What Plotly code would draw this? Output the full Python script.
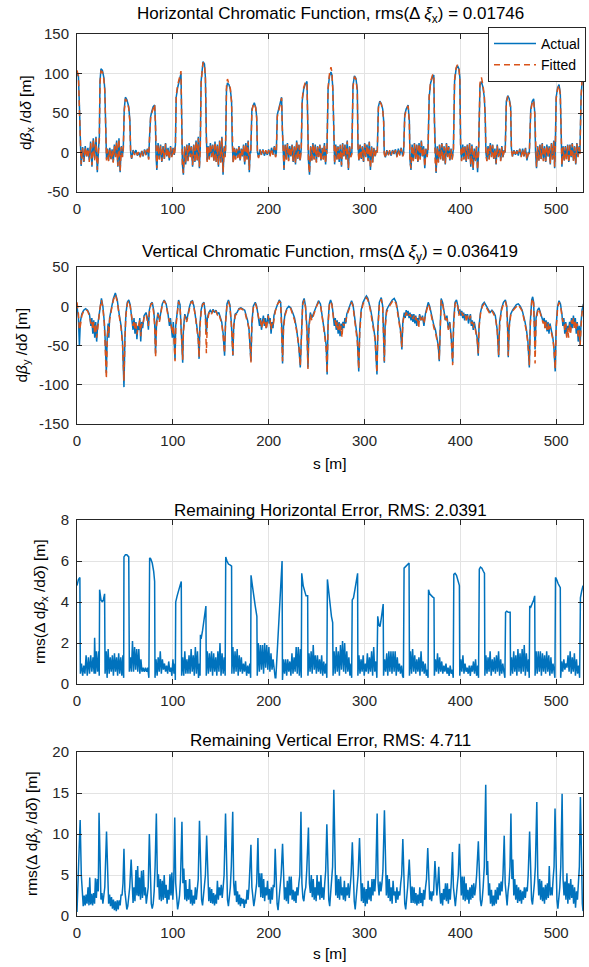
import plotly.graph_objects as go

# ---------------- data ----------------
S_X = [
    0, 1.5, 2.5, 3.5,
    4.3, 5.8, 7.2, 8.6, 10, 11.4, 12.8, 14.2, 15.6, 17, 18.4, 19.8, 21.2, 22.5,
    23.3, 24, 25, 26.5, 28, 29, 30, 30.8,
    31.8, 33, 34.2, 35.4, 36.6, 37.8, 39, 40.2, 41.4, 42.6, 43.8, 45, 46.2, 47.4,
    48.3, 49.3, 50.5, 52, 54, 55.2, 56,
    57, 58.5, 60, 61.5, 63, 64.5, 66, 67.5, 69, 70.5, 72, 73.5, 74.8,
    75.7, 76.8, 78, 79.5, 81, 81.8, 82.5,
    83.3, 84.6, 85.9, 87.2, 88.5, 89.8, 91.1, 92.4, 93.7, 95, 96.3, 97.6, 98.9, 100.2, 101.5,
    102.7, 103.5, 105, 107, 108.5, 109.3, 110,
    111, 112.2, 113.4, 114.6, 115.8, 117, 118.2, 119.4, 120.6, 121.8, 123, 124.2, 125.4, 126.6, 127.7,
    128.6, 129.5, 130.5, 131.5, 133, 134, 135, 135.8,
    136.8, 138, 139.2, 140.4, 141.6, 142.8, 144, 145.2, 146.4, 147.6, 148.8, 150, 151.2, 152.4, 153.6, 154.5,
    155, 156, 157, 158.5, 160, 161.3, 162, 163,
    164.2, 165.4, 166.6, 167.8, 169, 170.2, 171.4, 172.6, 173.8, 175, 176.2, 177.4, 178.6, 179.8, 180.6,
    181.3, 182.5, 184, 185, 186.5, 187.5, 188.3,
    189.5, 191, 192.5, 194, 195.5, 197, 198.5, 200, 201.5, 203, 204.5, 206, 207.2,
    208, 209, 210.5, 212, 213.5, 214.3, 215,
    216, 217.2, 218.4, 219.6, 220.8, 222, 223.2, 224.4, 225.6, 226.8, 228, 229.2, 230.4, 231.6, 232.8,
    234, 235, 236.5, 238, 240, 240.8, 241.5,
    242.6, 243.8, 245, 246.2, 247.4, 248.6, 249.8, 251, 252.2, 253.4, 254.6, 255.8, 257, 258.2, 259.4, 260.3,
    260.8, 262, 263.5, 265, 266, 267, 267.8,
    268.8, 270, 271.2, 272.4, 273.6, 274.8, 276, 277.2, 278.4, 279.6, 280.8, 282, 283.2, 284.4, 285.6,
    286.8, 288, 289.5, 291, 292.5, 293.2,
    294.2, 295.4, 296.6, 297.8, 299, 300.2, 301.4, 302.6, 303.8, 305, 306.2, 307.4, 308.6, 309.8, 311, 312.2,
    313.3, 314.5, 316, 317.5, 319, 320, 320.6,
    321.8, 323.3, 324.8, 326.3, 327.8, 329.3, 330.8, 332.3, 333.8, 335.3, 336.8, 338.3, 339.8,
    340.8, 342, 343.5, 345.5, 346.8, 347.5,
    348.5, 349.7, 350.9, 352.1, 353.3, 354.5, 355.7, 356.9, 358.1, 359.3, 360.5, 361.7, 362.9, 364.1, 365.3,
    366.3, 367.5, 369, 371, 372.3, 373, 373.7,
    374.7, 375.9, 377.1, 378.3, 379.5, 380.7, 381.9, 383.1, 384.3, 385.5, 386.7, 387.9, 389.1, 390.3, 391.5,
    392.8, 394, 395.5, 397, 398.5, 399.5, 400.3,
    401.3, 402.5, 403.7, 404.9, 406.1, 407.3, 408.5, 409.7, 410.9, 412.1, 413.3, 414.5, 415.7, 416.9, 418,
    419, 420.5, 422, 423.5, 425, 426, 426.7,
    427.7, 428.9, 430.1, 431.3, 432.5, 433.7, 434.9, 436.1, 437.3, 438.5, 439.7, 440.9, 442.1, 443.3, 444.5, 445.7,
    446.8, 448, 449.5, 451, 452.5, 453.3,
    454.5, 456, 457.5, 459, 460.5, 462, 463.5, 465, 466.5, 468, 469.5, 471,
    472, 473.5, 475, 476.5, 477.7, 478.5,
    479.5, 480.7, 481.9, 483.1, 484.3, 485.5, 486.7, 487.9, 489.1, 490.3, 491.5, 492.7, 493.9, 495.1, 496.3, 497.5, 498.4,
    499, 500, 501.5, 503, 504.3, 505,
    506, 507.2, 508.4, 509.6, 510.8, 512, 513.2, 514.4, 515.6, 516.8, 518, 519.2, 520.4, 521.6, 522.8, 524,
    524.8, 526, 527.3, 528.5,
]
DBX_ACT = [
    100, 96, 60, 5,
    -17, 7, -12, 8, -5, 6, -10, 14, -18, 18, -8, 20, -25, 5,
    20, 90, 106, 104, 95, 80, 20, -8,
    5, -10, 6, -8, 4, -12, 10, -5, 15, -18, 18, -25, 8, -5,
    5, 55, 70, 67, 58, 40, 0,
    -8, 3, -2, 3, -4, 0, -5, 2, -5, 4, -3, 5, -8,
    20, 45, 52, 58, 60, 40, -5,
    -22, 12, -8, 10, -12, 8, -8, 12, -5, 6, -10, 8, -5, 6, -3,
    10, 70, 82, 95, 100, 40, -15,
    -28, 8, -15, 10, -10, 12, -5, 8, -18, 10, -12, 15, -10, 20, -20,
    5, 90, 110, 115, 112, 95, 20, -10,
    8, -8, 12, -5, 10, -10, 14, -12, 10, -18, 15, -12, 20, -28, 8, -5,
    5, 80, 88, 86, 80, 65, 10, -12,
    6, -8, 5, -6, 8, -10, 5, -5, 10, -15, 12, -8, 15, -25, 0,
    0, 55, 62, 63, 57, 45, 0,
    -6, 4, -3, 4, -4, 2, -3, 4, -4, 6, -2, 8, -5,
    0, 48, 55, 65, 70, 30, -5,
    -22, 10, -8, 12, -10, 8, -5, 10, -12, 8, -15, 15, -8, 10, -10,
    5, 65, 80, 86, 90, 40, -10,
    -28, 8, -10, 12, -8, 10, -12, 8, -5, 10, -10, 6, -8, 12, -15, 5,
    0, 80, 97, 102, 98, 80, 10,
    -15, 10, -8, 8, -12, 10, -18, 12, -5, 10, -8, 15, -22, 8, -5,
    0, 85, 97, 94, 80, 10,
    -10, 10, -8, 8, -12, 12, -5, 10, -10, 14, -22, 8, -12, 6, -5, 3,
    0, 58, 65, 62, 55, 40, 0,
    -6, 3, -3, 2, -4, 3, -2, 4, -5, 5, -3, 6, -4,
    0, 48, 55, 60, 40, -10,
    -22, 10, -10, 12, -8, 10, -12, 12, -8, 15, -5, 8, -20, 5, -5,
    5, 70, 88, 96, 98, 40, -10,
    -26, 8, -12, 10, -8, 12, -10, 8, -15, 12, -5, 8, -10, 5, -8,
    5, 90, 105, 110, 106, 95, 10,
    -10, 10, -8, 8, -12, 10, -8, 12, -18, 10, -22, 5, -10, 8, -25,
    0, 85, 90, 83, 70, 45, 0,
    -10, 8, -8, 12, -5, 10, -8, 5, -15, 10, -5, 5, -10, 8, -6, 3,
    0, 65, 72, 68, 58, 5,
    -5, 3, -3, 3, -4, 5, -5, 5, -5, 6, -10, 0,
    0, 55, 65, 68, 50, 0,
    -20, 8, -10, 10, -8, 12, -10, 8, -12, 10, -5, 8, -15, 12, -8, 15, -20,
    0, 70, 82, 86, 75, 10,
    -18, 8, -10, 8, -8, 10, -12, 10, -6, 12, -10, 8, -15, 12, -5, 8,
    0, 70, 95, 100,
]
DBX_FIT = [
    104, 97, 55, 2,
    -15, 6, -11, 7, -6, 5, -12, 12, -16, 17, -10, 18, -22, 3,
    15, 88, 103, 102, 93, 78, 15, -10,
    4, -11, 5, -9, 3, -13, 9, -6, 14, -17, 17, -23, 7, -6,
    3, 52, 68, 65, 56, 38, -2,
    -7, 2, -3, 2, -3, 1, -6, 3, -4, 3, -4, 4, -9,
    18, 44, 50, 57, 61, 38, -8,
    -20, 10, -9, 9, -11, 7, -9, 11, -6, 5, -9, 7, -6, 5, -4,
    8, 72, 85, 98, 103, 38, -18,
    -26, 7, -14, 9, -11, 11, -6, 7, -16, 9, -13, 14, -11, 18, -18,
    3, 88, 108, 114, 111, 93, 18, -12,
    7, -9, 11, -6, 9, -11, 13, -13, 9, -16, 14, -13, 18, -25, 6, -6,
    3, 84, 93, 88, 81, 63, 8, -14,
    5, -9, 4, -7, 7, -11, 4, -6, 9, -14, 11, -9, 14, -22, -2,
    -2, 52, 61, 62, 56, 43, -2,
    -7, 3, -4, 3, -3, 3, -4, 3, -5, 5, -3, 7, -6,
    -2, 45, 53, 63, 69, 28, -7,
    -20, 9, -9, 11, -11, 7, -6, 9, -11, 7, -14, 14, -9, 9, -11,
    3, 68, 82, 88, 89, 38, -12,
    -26, 7, -11, 11, -9, 9, -13, 7, -6, 9, -11, 5, -9, 11, -14, 3,
    -2, 82, 100, 108, 102, 78, 8,
    -14, 9, -9, 7, -11, 9, -16, 11, -6, 9, -9, 14, -20, 7, -6,
    -2, 83, 96, 93, 78, 8,
    -11, 9, -9, 7, -11, 11, -6, 9, -11, 13, -20, 7, -13, 5, -6, 2,
    -2, 56, 64, 61, 54, 38, -2,
    -7, 2, -4, 3, -3, 2, -3, 3, -6, 4, -4, 5, -5,
    -2, 46, 54, 59, 38, -12,
    -20, 9, -11, 11, -9, 9, -13, 11, -9, 14, -6, 7, -18, 4, -6,
    3, 72, 90, 98, 99, 38, -12,
    -24, 7, -13, 9, -9, 11, -11, 7, -14, 11, -6, 7, -11, 4, -9,
    3, 92, 107, 111, 107, 93, 8,
    -11, 9, -9, 7, -11, 9, -9, 11, -16, 9, -20, 4, -11, 7, -22,
    -2, 88, 95, 86, 72, 43, -2,
    -11, 7, -9, 11, -6, 9, -9, 4, -14, 9, -6, 4, -11, 7, -7, 2,
    -2, 63, 71, 67, 56, 3,
    -6, 2, -4, 2, -3, 4, -6, 4, -6, 5, -9, -1,
    -2, 53, 63, 66, 48, -2,
    -18, 7, -11, 9, -9, 11, -11, 7, -11, 9, -6, 7, -14, 11, -9, 14, -18,
    -2, 68, 80, 85, 73, 8,
    -16, 7, -11, 7, -9, 9, -13, 9, -7, 11, -11, 7, -14, 11, -6, 7,
    -2, 72, 98, 103,
]

S_Y = [
    0, 1.5, 2.5, 3.5, 5, 7, 9, 11, 13, 14.5,
    15.5, 16.5, 17.5, 18.5, 19.5, 20.5, 21.5, 22.5, 24, 25.5,
    27, 28.5, 29.5, 30.6, 31.5, 32.5, 33.2, 34, 36, 38,
    40, 42, 44, 46, 47.5, 49, 50, 51, 52.5, 54,
    55.5, 57, 58.5, 59.5, 60.5, 61.5, 62.5, 63.5, 64.5, 65.5,
    66.5, 67.5, 68.5, 70, 72, 73.5, 74.5, 75.5, 77, 78.5,
    80, 81, 82, 83, 84.5, 86, 87.5, 89, 91, 93,
    95, 96.5, 97.5, 98.5, 99.5, 100.5, 101.5, 102.3, 103, 104.5,
    106, 107.5, 108.5, 109.5, 110.3, 111, 112.5, 114.5, 115.5, 117.5,
    119, 120.5, 122, 123.5, 125, 126.5, 127.4, 128.2, 129.5, 131,
    132.5, 134, 135, 136, 137.5, 139, 140.5, 142, 143.5, 145,
    146.5, 148, 149.5, 151, 152.5, 154, 155, 156.5, 158, 159.5,
    161, 162.7, 163.5, 165, 167, 169, 171, 173, 175, 176.5,
    178, 179.5, 181.5, 182.5, 184, 186, 187.5, 189, 190.5, 191.5,
    192.5, 193.5, 194.5, 195.5, 196.5, 197.5, 198.5, 199.5, 200.5, 201.5,
    202.5, 203.5, 204.5, 205.5, 207, 209, 211, 212.5, 213.5, 214.5,
    215.5, 217, 219, 221, 223, 225, 227, 229, 230.5, 231.5,
    233, 234, 235.5, 237, 238.5, 240, 241, 242, 243.5, 245,
    246.5, 248, 250, 252, 254, 255.5, 257, 258.5, 260, 261,
    262, 263.3, 264.6, 266, 267.5, 268.5, 269.5, 270.5, 271.5, 272.5,
    273.5, 274.5, 275.5, 276.5, 277.5, 278.5, 279.5, 280.5, 281.5, 283,
    285, 286.5, 288, 289.5, 291, 292.5, 294, 295, 296.5, 298.5,
    300.5, 302, 303.5, 305, 306.5, 308, 309.5, 311, 313, 314,
    315.5, 317.5, 319, 320, 320.7, 321.5, 323, 325, 327, 329,
    331, 333, 334.5, 336, 337.5, 339, 340, 341.5, 342.5, 343.5,
    344.5, 345.5, 346.5, 347.5, 348.5, 349.5, 350.5, 351.5, 352.5, 353.5,
    354.5, 355.5, 356.5, 357.5, 359, 360.5, 362, 363.5, 365, 366.5,
    368, 369.5, 371, 372.5, 374, 375.5, 377, 378, 379, 380,
    381.5, 383, 384.5, 386, 387.5, 389, 390.5, 392, 393, 394.5,
    396, 397.5, 398.5, 399.5, 400.5, 401.5, 402.5, 403.5, 404.5, 405.5,
    406.5, 407.5, 408.5, 409.5, 410.5, 411.5, 412.5, 413.5, 414.5, 416,
    417.5, 418.7, 419.5, 421, 423, 425, 427, 429, 431, 433,
    435, 436.5, 437.5, 438.5, 440, 441, 443, 445, 447, 448.5,
    449.3, 450, 451, 452.5, 454.5, 456.5, 458.5, 460.5, 462.5, 464.5,
    466, 467.5, 469, 470.5, 472, 473, 474.5, 475.5, 476.5, 477.3,
    478, 479, 480.5, 482, 483.5, 485, 486.5, 487.5, 488.5, 489.5,
    490.5, 491.5, 492.5, 493.5, 495, 496.5, 497.5, 499, 500, 501.5,
    503, 504.5, 506, 507, 508, 509, 510, 511, 512, 513,
    514, 515, 516, 517, 518, 519, 520, 521, 522, 523,
    524, 525, 526, 527, 528.5,
]
DBY_ACT = [
    0, -15, -50, -20, -10, -5, -3, -5, -10, -25,
    -15, -35, -18, -40, -20, -45, -25, -15, 0, 10,
    0, -20, -45, -85, -40, -22, -40, -15, -2, 10,
    17, 8, -10, -25, -45, -103, -40, -10, 5, 8,
    2, -12, -30, -15, -35, -20, -42, -25, -30, -15,
    -45, -20, -28, -12, -8, -15, -30, -5, 3, 5,
    -5, -20, -60, -20, -8, -18, -8, 3, 8, 3,
    -10, -25, -15, -30, -40, -20, -45, -68, -25, -5,
    8, 2, -20, -45, -72, -30, -10, -18, -10, 0,
    6, 7, 0, -10, -25, -40, -67, -25, -5, 3,
    5, -10, -35, -15, -8, -5, -8, -4, -8, -5,
    -10, -8, -15, -20, -35, -63, -20, 3, 8, 2,
    -20, -63, -25, -10, -8, -3, -2, -4, -5, -12,
    -18, -30, -70, -20, 0, 5, 0, -12, -25, -15,
    -30, -20, -12, -25, -15, -28, -18, -10, -22, -15,
    -35, -20, -28, -12, -5, 3, 8, 5, -20, -73,
    -25, -10, -3, 0, -2, -8, -15, -28, -40, -52,
    -78, -30, 5, 10, 0, -30, -78, -25, -8, -15,
    -10, -5, 2, 7, 3, -8, -20, -35, -50, -87,
    -20, 3, 8, 3, -12, -25, -15, -30, -18, -35,
    -20, -38, -22, -30, -20, -28, -15, -22, -10, -5,
    3, 7, 2, -12, -25, -40, -83, -30, -5, 5,
    10, 13, 10, 3, -5, -15, -25, -40, -87, -25,
    5, 11, 0, -30, -72, -25, -5, 0, 5, 8,
    10, 5, -5, -15, -30, -55, -20, -8, -15, -5,
    -12, -6, -15, -8, -18, -10, -20, -10, -22, -12,
    -25, -15, -20, -10, -18, -12, -25, -10, 0, 5,
    0, -10, -18, -25, -30, -40, -50, -70, -20, 10,
    5, -5, -18, -12, -28, -20, -40, -72, -20, 5,
    8, 0, -10, -4, -12, -6, -15, -8, -18, -10,
    -15, -10, -22, -15, -10, -25, -18, -30, -20, -30,
    -40, -63, -25, -8, 2, 5, 0, -5, -8, -5,
    -8, -12, -20, -30, -65, -20, -3, 5, 8, 0,
    -25, -65, -25, -10, -5, -2, 2, 3, 0, -5,
    -12, -20, -30, -45, -78, -20, 8, 12, 5, -20,
    -55, -15, -5, -2, -8, -12, -20, -15, -28, -18,
    -32, -20, -35, -22, -30, -40, -50, -83, -25, 0,
    7, 3, -10, -25, -15, -35, -20, -38, -25, -30,
    -20, -32, -15, -28, -12, -25, -15, -35, -20, -45,
    -25, -50, -20, -5, 3,
]
DBY_FIT = [
    5, -10, -30, -25, -12, -6, -4, -6, -12, -22,
    -18, -30, -20, -35, -22, -40, -30, -18, -2, 8,
    -2, -22, -50, -92, -45, -25, -35, -18, -4, 8,
    15, 6, -12, -28, -48, -95, -42, -12, 3, 7,
    0, -14, -25, -18, -28, -22, -36, -28, -20, -18,
    -38, -22, -25, -14, -10, -18, -25, -8, 2, 4,
    -8, -25, -65, -25, -10, -20, -10, 2, 7, 2,
    -12, -20, -18, -25, -35, -25, -50, -70, -28, -6,
    6, 0, -22, -40, -68, -35, -12, -20, -12, -2,
    5, 6, -2, -12, -28, -42, -65, -28, -8, 2,
    4, -15, -60, -20, -10, -6, -10, -5, -9, -6,
    -11, -9, -16, -22, -38, -60, -22, 1, 6, 0,
    -22, -62, -28, -12, -9, -4, -3, -5, -6, -14,
    -20, -28, -72, -25, -2, 4, -2, -14, -20, -18,
    -28, -22, -15, -22, -18, -30, -20, -12, -20, -18,
    -30, -22, -25, -14, -6, 2, 6, 4, -25, -70,
    -28, -12, -4, -2, -3, -10, -18, -30, -45, -50,
    -76, -35, 2, 8, -2, -35, -80, -30, -10, -18,
    -12, -6, 0, 5, 2, -10, -22, -38, -55, -85,
    -25, 1, 6, 2, -14, -20, -18, -28, -20, -30,
    -22, -33, -25, -40, -22, -25, -18, -20, -12, -6,
    2, 5, 0, -14, -28, -45, -80, -35, -8, 3,
    8, 11, 8, 2, -8, -18, -28, -42, -85, -30,
    2, 9, -2, -35, -70, -30, -8, -2, 3, 6,
    8, 3, -8, -18, -32, -52, -22, -10, -12, -8,
    -10, -8, -12, -10, -14, -12, -16, -12, -18, -14,
    -20, -17, -28, -12, -20, -14, -22, -12, -2, 3,
    -2, -12, -20, -28, -33, -42, -52, -68, -25, 8,
    3, -8, -20, -15, -30, -22, -42, -75, -25, 3,
    6, -2, -12, -6, -10, -8, -12, -10, -14, -12,
    -20, -12, -18, -17, -12, -22, -20, -28, -22, -32,
    -42, -60, -28, -10, 0, 3, -2, -6, -10, -6,
    -10, -14, -22, -32, -62, -25, -5, 3, 6, -2,
    -30, -63, -28, -12, -6, -3, 0, 2, -2, -6,
    -14, -22, -32, -48, -75, -25, 6, 10, 3, -30,
    -73, -20, -8, -3, -10, -14, -22, -17, -30, -20,
    -30, -22, -32, -25, -32, -42, -52, -80, -30, -2,
    5, 1, -12, -20, -18, -30, -22, -40, -28, -40,
    -22, -35, -18, -25, -15, -30, -18, -30, -22, -40,
    -30, -50, -25, -8, 2,
]

S_EX = [
    0, 1.5, 3, 3.5,
    4.7, 5.9, 7.1, 8.3, 9.5, 10.7, 11.9, 13.1, 14.3, 15.5, 16.7, 17.9, 18.4, 19.3, 20.2, 21.4, 22.6, 23.2,
    23.6, 25, 26.5, 27.5, 28.8, 29.3,
    30.5, 31.4, 32.5, 33.6, 34.7, 35.8, 36.9, 38, 39.1, 40.2, 41.3, 42.4, 43.5, 44.6, 45.7, 46.8, 47.9, 48.7,
    49, 50.5, 52, 54, 54.6,
    55.7, 56.8, 57.9, 59, 60.1, 61.2, 62.3, 63.4, 64.5, 65.6, 66.7, 67.8, 69, 70.2, 71.4, 72.6, 73.8, 75,
    75.8, 77, 78.5, 80, 81, 81.4,
    82.5, 83.6, 84.7, 85.8, 86.9, 88, 89.1, 90.2, 91.3, 92.4, 93.5, 94.6, 95.7, 96.8, 97.9, 99, 100.1, 101.2, 102.2, 102.6,
    103, 104.5, 106, 107.5, 108.8, 109.2,
    110.3, 111.4, 112.5, 113.6, 114.7, 115.8, 116.9, 118, 119.1, 120.2, 121.3, 122.4, 123.5, 124.6, 125.7, 126.8, 127.9, 128.4,
    128.8, 129.5, 131, 132.5, 134.5, 134.9,
    136, 137.1, 138.2, 139.3, 140.4, 141.5, 142.6, 143.7, 144.8, 145.9, 147, 148.1, 149.2, 150.3, 151.4, 152.5, 153.6, 154.6,
    155.2, 156.5, 158, 160, 161.3, 161.6,
    162.7, 163.8, 164.9, 166, 167.1, 168.2, 169.3, 170.4, 171.5, 172.6, 173.7, 174.8, 175.9, 177, 178.1, 179.2, 180.3, 181.2,
    181.6, 183, 184.5, 186, 187.7, 188.1,
    189.2, 190.3, 191.4, 192.5, 193.6, 194.7, 195.8, 196.9, 198, 199.1, 200.2, 201.3, 202.4, 203.5, 204.6, 205.7, 206.8,
    207.5, 214, 214.4,
    215.5, 216.6, 217.7, 218.8, 219.9, 221, 222.1, 223.2, 224.3, 225.4, 226.5, 227.6, 228.7, 229.8, 230.9, 232, 233.1, 234,
    234.5, 236, 237.5, 239, 240.7, 241,
    242.1, 243.2, 244.3, 245.4, 246.5, 247.6, 248.7, 249.8, 250.9, 252, 253.1, 254.2, 255.3, 256.4, 257.5, 258.6, 259.7, 260.7,
    261.3, 262.5, 264, 265.5, 266.8, 267.2,
    268.3, 269.4, 270.5, 271.6, 272.7, 273.8, 274.9, 276, 277.1, 278.2, 279.3, 280.4, 281.5, 282.6, 283.7, 284.8, 285.9, 286.6,
    287.2, 288.5, 290, 291.5, 292.8, 293.1,
    294.2, 295.3, 296.4, 297.5, 298.6, 299.7, 300.8, 301.9, 303, 304.1, 305.2, 306.3, 307.4, 308.5, 309.6, 310.7, 311.8, 312.9,
    313.8, 315, 316.2, 317.5, 319.5, 319.9,
    321, 322.1, 323.2, 324.3, 325.4, 326.5, 327.6, 328.7, 329.8, 330.9, 332, 333.1, 334.2, 335.3, 336.4, 337.5, 338.6, 339.7, 340.6,
    341.3, 343, 344.5, 346.5, 346.9,
    348, 349.1, 350.2, 351.3, 352.4, 353.5, 354.6, 355.7, 356.8, 357.9, 359, 360.1, 361.2, 362.3, 363.4, 364.5, 365.6, 366.3,
    366.8, 368, 369.5, 371, 372.5, 372.9,
    374, 375.1, 376.2, 377.3, 378.4, 379.5, 380.6, 381.7, 382.8, 383.9, 385, 386.1, 387.2, 388.3, 389.4, 390.5, 391.6, 392.6,
    393.2, 394.5, 396, 397.5, 399, 399.4,
    400.5, 401.6, 402.7, 403.8, 404.9, 406, 407.1, 408.2, 409.3, 410.4, 411.5, 412.6, 413.7, 414.8, 415.9, 417, 418.1, 419,
    419.8, 421, 422.5, 424, 425.2, 425.6,
    426.7, 427.8, 428.9, 430, 431.1, 432.2, 433.3, 434.4, 435.5, 436.6, 437.7, 438.8, 439.9, 441, 442.1, 443.2, 444.3, 445.4, 446.5,
    447.2, 448.5, 450, 452, 452.4,
    453.5, 454.6, 455.7, 456.8, 457.9, 459, 460.1, 461.2, 462.3, 463.4, 464.5, 465.6, 466.7, 467.8, 468.9, 470, 471.1, 471.9,
    472.4, 473.5, 475, 476.5, 477.6, 478,
    479.1, 480.2, 481.3, 482.4, 483.5, 484.6, 485.7, 486.8, 487.9, 489, 490.1, 491.2, 492.3, 493.4, 494.5, 495.6, 496.7, 497.8, 498.7,
    499.3, 500.5, 502, 503.5, 504.3, 504.7,
    505.8, 506.9, 508, 509.1, 510.2, 511.3, 512.4, 513.5, 514.6, 515.7, 516.8, 517.9, 519, 520.1, 521.2, 522.3, 523.4, 524.5,
    525.3, 526.5, 528,
]
ERR_X = [
    4.8, 5.1, 5.2, 0.5,
    1.0, 0.4, 0.9, 0.5, 1.4, 0.4, 1.3, 0.5, 1.4, 0.6, 1.3, 0.5, 2.25, 0.5, 1.6, 0.6, 1.6, 0.4,
    4.6, 4.1, 4.0, 4.1, 4.4, 0.5,
    1.6, 0.3, 1.7, 0.5, 1.3, 0.6, 1.4, 0.4, 1.5, 0.6, 1.3, 0.4, 1.5, 0.5, 1.3, 0.4, 1.4, 0.3,
    6.2, 6.3, 6.3, 6.2, 0.6,
    1.3, 0.6, 2.1, 0.6, 1.8, 0.7, 1.7, 0.6, 1.7, 0.5, 1.2, 0.6, 0.8, 0.6, 0.8, 0.6, 0.8, 0.3,
    6.15, 6.1, 5.9, 5.5, 5.0, 0.3,
    1.2, 0.4, 1.3, 0.6, 1.6, 0.5, 1.2, 0.7, 1.0, 0.6, 0.9, 0.5, 1.1, 0.6, 0.8, 0.4, 1.2, 0.5, 1.0, 0.2,
    4.0, 4.3, 4.6, 4.8, 5.0, 0.4,
    1.3, 0.4, 1.6, 0.5, 1.2, 0.5, 1.4, 0.5, 1.7, 0.6, 1.4, 0.4, 1.8, 0.5, 1.6, 0.3, 1.0, 0.4,
    2.4, 2.2, 2.6, 3.1, 3.8, 0.4,
    1.6, 0.5, 1.5, 0.6, 1.6, 0.4, 1.5, 0.6, 1.3, 0.4, 1.6, 0.6, 2.0, 0.4, 1.5, 0.5, 1.3, 0.4,
    6.2, 6.0, 5.85, 5.8, 5.75, 0.5,
    1.8, 0.5, 1.6, 0.6, 1.7, 0.4, 1.4, 0.6, 1.3, 0.5, 1.0, 0.6, 1.1, 0.4, 0.9, 0.5, 1.0, 0.3,
    5.3, 4.8, 4.2, 3.8, 3.3, 0.4,
    2.0, 0.6, 1.9, 0.7, 1.9, 0.5, 2.0, 0.8, 1.9, 0.7, 1.8, 0.6, 1.5, 0.7, 1.2, 0.5, 0.3,
    0.3, 6.0, 0.2,
    1.2, 0.5, 1.2, 0.4, 1.2, 0.6, 1.1, 0.4, 1.5, 0.5, 1.3, 0.6, 1.8, 0.5, 1.8, 0.4, 1.7, 0.3,
    5.4, 4.8, 4.5, 4.3, 4.3, 0.4,
    1.5, 0.6, 1.6, 0.5, 1.9, 0.7, 1.4, 0.5, 1.4, 0.6, 1.2, 0.5, 1.4, 0.4, 1.1, 0.5, 1.0, 0.3,
    5.1, 4.5, 3.9, 3.3, 3.0, 0.4,
    1.6, 0.5, 1.8, 0.6, 1.6, 0.4, 1.9, 0.7, 2.1, 0.6, 2.0, 0.5, 1.6, 0.6, 1.3, 0.4, 1.0, 0.3,
    4.1, 4.2, 4.6, 5.0, 5.4, 0.4,
    1.4, 0.5, 1.2, 0.6, 1.4, 0.4, 1.0, 0.6, 1.5, 0.5, 1.3, 0.6, 1.6, 0.4, 1.8, 0.6, 1.1, 0.3,
    3.3, 2.9, 2.8, 3.2, 3.9, 0.4,
    1.2, 0.6, 1.5, 0.4, 1.6, 0.6, 1.6, 0.5, 1.6, 0.6, 1.6, 0.4, 1.3, 0.6, 1.0, 0.5, 0.9, 0.4, 0.3,
    5.65, 5.75, 5.8, 5.9, 0.4,
    1.6, 0.5, 1.7, 0.6, 1.4, 0.5, 1.2, 0.6, 1.3, 0.4, 1.6, 0.6, 1.1, 0.5, 1.0, 0.4, 0.7, 0.3,
    4.6, 4.4, 4.3, 4.25, 4.2, 0.4,
    1.2, 0.6, 1.5, 0.5, 1.3, 0.6, 1.1, 0.5, 0.9, 0.6, 1.0, 0.5, 0.8, 0.4, 0.9, 0.5, 0.7, 0.3,
    5.35, 5.4, 5.3, 5.0, 4.8, 0.4,
    1.2, 0.6, 1.4, 0.5, 1.0, 0.6, 0.8, 0.5, 0.9, 0.4, 0.9, 0.6, 1.1, 0.5, 1.2, 0.4, 0.9, 0.3,
    5.6, 5.7, 5.65, 5.5, 5.4, 0.4,
    1.4, 0.5, 1.3, 0.6, 1.6, 0.4, 1.2, 0.6, 1.3, 0.5, 1.4, 0.6, 1.6, 0.4, 1.2, 0.5, 1.0, 0.6, 0.3,
    3.5, 3.55, 3.5, 3.5, 0.4,
    1.3, 0.5, 1.6, 0.6, 1.4, 0.4, 1.7, 0.6, 1.5, 0.5, 1.7, 0.6, 1.9, 0.4, 1.5, 0.6, 1.2, 0.3,
    3.8, 3.75, 3.9, 4.1, 4.3, 0.4,
    1.6, 0.5, 1.6, 0.6, 1.6, 0.4, 1.5, 0.6, 1.4, 0.5, 1.6, 0.6, 1.4, 0.4, 1.3, 0.5, 1.0, 0.4, 0.3,
    5.2, 5.1, 4.9, 4.8, 4.7, 0.3,
    1.1, 0.6, 1.2, 0.7, 1.0, 0.8, 1.4, 0.6, 1.6, 0.5, 1.3, 0.6, 1.5, 0.4, 1.2, 0.5, 0.9, 0.3,
    4.2, 4.5, 4.8,
]

S_EY = [
    0, 1, 2, 3.3, 4.5, 5.5, 6.5, 7.5, 8.5, 9.5,
    10.5, 11.5, 12.5, 13.3, 14.3, 15.3, 16.3, 17.3, 18.3, 19.2,
    20.2, 21.2, 22.2, 23, 24, 25, 26, 27, 28, 29,
    30.8, 32, 33, 34, 35, 36, 37, 38, 39, 40,
    41, 42, 43, 44, 45, 46, 47, 48, 49, 50,
    51, 52, 53, 54, 55, 56.5, 57.5, 58.5, 59.5, 60.5,
    61.5, 62.5, 63.3, 64.3, 65.3, 66.3, 67.3, 68.3, 69.3, 70.3,
    71.3, 72.3, 73.3, 74.3, 75.5, 76.5, 77.5, 78.5, 79.5, 80.5,
    81.5, 82.8, 84, 85, 86, 87, 88, 89, 90, 91,
    92, 93, 94, 95, 96, 97, 98, 99, 100, 101,
    102, 103, 104, 105, 106, 107, 108, 109.5, 110.5, 111.5,
    112.5, 113.5, 114.5, 115.5, 116.5, 117.5, 118.5, 119.5, 120.5, 121.5,
    122.5, 123.5, 124.5, 125.5, 126.5, 127.8, 129, 130, 131, 132,
    133, 134, 135.3, 136.5, 137.5, 138.5, 139.5, 140.5, 141.5, 142.5,
    143.5, 144.5, 145.5, 146.5, 147.5, 148.5, 149.5, 150.5, 151.5, 152.5,
    153.5, 155, 156, 157, 158, 159, 160, 161, 162.5, 163.5,
    164.5, 165.5, 166.5, 167.5, 168.5, 169.5, 170.5, 171.5, 172.5, 173.5,
    174.5, 175.5, 176.5, 177.5, 178.5, 179.5, 181.5, 182.5, 183.5, 184.5,
    185.5, 186.5, 187.5, 188.8, 189.8, 190.8, 191.8, 192.8, 193.8, 194.8,
    195.8, 196.8, 197.8, 198.8, 199.8, 200.8, 201.8, 202.8, 203.8, 204.8,
    205.8, 206.8, 207.8, 208.8, 209.8, 210.8, 211.8, 213, 214.5, 215.5,
    216.5, 217.5, 218.5, 219.5, 220.5, 221.5, 222.5, 223.5, 224.5, 225.5,
    226.5, 227.5, 228.5, 229.5, 230.5, 231.5, 232.5, 233.7, 234.7, 235.7,
    236.7, 237.7, 238.7, 239.7, 241.5, 242.5, 243.5, 244.5, 245.5, 246.5,
    247.5, 248.5, 249.5, 250.5, 251.5, 252.5, 253.5, 254.5, 255.5, 256.5,
    257.5, 258.5, 259.5, 260.7, 261.7, 262.7, 263.7, 264.7, 265.7, 266.7,
    268, 269, 270, 271, 272, 273, 274, 275, 276, 277,
    278, 279, 280, 281, 282, 283, 284, 285, 286, 287.3,
    288.3, 289.3, 290.3, 291.3, 292.3, 293.3, 294.8, 295.8, 296.8, 297.8,
    298.8, 299.8, 300.8, 301.8, 302.8, 303.8, 304.8, 305.8, 306.8, 307.8,
    308.8, 309.8, 310.8, 311.8, 313.2, 314.2, 315.2, 316.2, 317.2, 318.2,
    319.2, 320.8, 321.8, 322.8, 323.8, 324.8, 325.8, 326.8, 327.8, 328.8,
    329.8, 330.8, 331.8, 332.8, 333.8, 334.8, 335.8, 336.8, 337.8, 338.8,
    340, 341, 342, 343, 344, 345, 346.7, 347.7, 348.7, 349.7,
    350.7, 351.7, 352.7, 353.7, 354.7, 355.7, 356.7, 357.7, 358.7, 359.7,
    360.7, 361.7, 362.7, 363.7, 364.7, 366, 367, 368, 369, 370,
    371, 372, 373.5, 374.5, 375.5, 376.5, 377.5, 378.5, 379.5, 380.5,
    381.5, 382.5, 383.5, 384.5, 385.5, 386.5, 387.5, 388.5, 389.5, 390.5,
    391.8, 392.8, 393.8, 394.8, 395.8, 396.8, 397.8, 399, 400, 401,
    402, 403, 404, 405, 406, 407, 408, 409, 410, 411,
    412, 413, 414, 415, 416, 417, 418.8, 419.8, 420.8, 421.8,
    422.8, 423.8, 425, 426.5, 427.5, 428.5, 429.5, 430.5, 431.5, 432.5,
    433.5, 434.5, 435.5, 436.5, 437.5, 438.5, 439.5, 440.5, 441.5, 442.5,
    443.5, 444.5, 445.8, 446.8, 447.8, 448.8, 449.8, 450.8, 451.8, 452.8,
    453.8, 454.8, 455.8, 456.8, 457.8, 458.8, 459.8, 460.8, 461.8, 462.8,
    463.8, 464.8, 465.8, 466.8, 467.8, 468.8, 469.8, 470.8, 472.3, 473.3,
    474.3, 475.3, 476.3, 477.3, 478.3, 479.8, 480.8, 481.8, 482.8, 483.8,
    484.8, 485.8, 486.8, 487.8, 488.8, 489.8, 490.8, 491.8, 492.8, 493.8,
    494.8, 495.8, 496.8, 497.8, 498.8, 499.8, 500.8, 501.8, 502.8, 503.8,
    504.8, 506.2, 507.2, 508.2, 509.2, 510.2, 511.2, 512.2, 513.2, 514.2,
    515.2, 516.2, 517.2, 518.2, 519.2, 520.2, 521.2, 522.2, 523.2, 524.2,
    525.3, 526.3, 527.3, 528,
]
ERR_Y = [
    0.5, 4, 8, 11.7, 5, 2.2, 1.2, 2.5, 1.3, 2.6,
    1.5, 3.5, 1.3, 4.7, 1.4, 2.7, 1.3, 2.8, 1.5, 4.6,
    2.2, 4.5, 3, 12.6, 4, 2, 2.8, 1.5, 2.5, 3.5,
    10.3, 3, 1.5, 2.6, 1.2, 2.3, 0.9, 2.0, 0.7, 1.8,
    0.6, 1.9, 0.8, 1.9, 1.3, 2.6, 2.5, 4, 8.2, 3,
    1.5, 0.8, 1.2, 2.2, 3.5, 6.9, 3, 1.6, 3.5, 1.8,
    5.6, 2.5, 6.1, 2.4, 4.7, 2.0, 5.5, 2.2, 5.6, 2.5,
    3.5, 1.5, 2.5, 3.5, 10, 3.5, 1.5, 0.9, 1.5, 3,
    6, 12.5, 3.5, 5.1, 2, 4.5, 1.8, 4.3, 2, 5,
    2.2, 3.8, 1.5, 3.2, 2, 5.1, 2.5, 5.3, 2, 4.5,
    12, 4, 1.5, 0.8, 1.5, 2.5, 4.5, 11.5, 4, 5.8,
    2, 4.4, 1.8, 3.3, 2, 4.5, 1.5, 3.2, 1.3, 2.5,
    1.5, 3.5, 2, 3, 4.5, 11.6, 4, 2, 1.3, 2.5,
    3.5, 5, 9.8, 3.5, 1.8, 3.5, 1.6, 3.3, 1.5, 2.8,
    1.3, 2.6, 1.5, 4.3, 2, 3.5, 2.5, 3.8, 2.2, 3.5,
    5, 12.5, 4, 2, 1.2, 2.5, 3.5, 6, 12.7, 4,
    2.5, 4.3, 1.7, 3, 1.4, 2.6, 1.2, 2.2, 1.5, 2.1,
    1.0, 2.0, 1.5, 3.2, 2.0, 3.5, 8.7, 3.5, 2, 1.2,
    2, 3, 4, 9.5, 3.5, 5.2, 2.3, 5.2, 2.2, 4.5,
    1.8, 3.5, 2.5, 4.3, 2.0, 3.3, 1.5, 3.5, 2.0, 3.8,
    3.5, 8.2, 3, 1.5, 0.7, 2, 3.5, 5, 8.8, 3.5,
    2, 3.5, 1.8, 4.3, 1.5, 4.8, 2.5, 4.8, 2, 3.2,
    1.8, 3, 1.6, 3.5, 2.5, 4, 5, 12.7, 4, 2.2,
    1.8, 3, 3.5, 5.5, 10.8, 4, 2.8, 5, 2.3, 4.5,
    2, 3.5, 1.8, 5, 2.5, 4.2, 2, 5, 2.2, 3.5,
    2, 4, 5.5, 11.2, 4, 2, 1.2, 2.5, 4, 6,
    15.4, 5.2, 2.5, 5, 2.2, 4.5, 2, 4.8, 2.5, 3.5,
    2, 4.3, 1.8, 3.5, 2.5, 4, 2.2, 3.5, 5, 9,
    3.5, 1.8, 0.8, 2, 3.5, 5, 9.5, 3.5, 1.8, 4,
    1.6, 3.5, 1.2, 3.3, 1.5, 4.3, 2, 3.5, 1.8, 4.5,
    2.5, 4.5, 3, 5, 12.5, 4, 2.5, 4.2, 3, 4,
    5.5, 12.9, 4.5, 2.5, 5, 2.2, 4.5, 1.8, 3.5, 1.5,
    4.3, 2.5, 3, 1.6, 3.5, 2, 3, 2.5, 4, 5,
    9.4, 3.5, 1.5, 0.8, 2, 3.5, 6.9, 3, 1.6, 3.6,
    1.6, 3.5, 1.5, 2.8, 1.3, 2.6, 1.5, 3.5, 1.6, 2.8,
    1.2, 3.2, 2, 3.5, 4.5, 8.3, 3.5, 2, 3, 1.8,
    3, 2.5, 6.7, 3.5, 2.5, 4, 6, 3, 1.5, 2.8,
    1.3, 3.3, 2, 4, 1.8, 4, 1.5, 3.3, 2, 4,
    7.8, 3.5, 1.8, 1.2, 2.5, 3.5, 5, 8.8, 4, 2.5,
    4.8, 2, 4.8, 1.8, 4, 2, 3.2, 1.5, 3.5, 2,
    3.8, 2.2, 4, 2.5, 3.5, 5, 9.1, 3.5, 2, 1.2,
    2, 3.5, 6, 16, 5, 6.7, 2.5, 4, 1.5, 3.2,
    1.2, 2.5, 1.3, 3.2, 1.5, 3.5, 2, 4, 2.5, 4.2,
    3, 5, 9.8, 4, 2, 1.3, 3, 4, 6, 12.5,
    4.5, 6.9, 2.5, 4.5, 2, 3.8, 1.6, 3.5, 1.8, 3.2,
    1.5, 3, 2, 3.5, 2.2, 3.5, 3, 5, 10.3, 4,
    2, 1.4, 2.5, 4, 6, 13.9, 5, 2.5, 4.5, 2,
    4.3, 1.8, 3.5, 1.5, 3.8, 2, 4, 2.2, 6.1, 2.5,
    3.5, 2.5, 4.5, 6, 13.1, 4, 2, 0.9, 2, 3.5,
    6, 14.9, 4.5, 2.5, 4.2, 2, 5.2, 1.5, 4, 2,
    4.5, 2.2, 3.8, 1.5, 3.5, 1, 3, 2, 4, 6,
    14.5, 5, 1.5, 0.6,
]

X_TICKS = [0, 100, 200, 300, 400, 500]
Y1_TICKS = [-50, 0, 50, 100, 150]
Y2_TICKS = [-150, -100, -50, 0, 50]
Y3_TICKS = [0, 2, 4, 6, 8]
Y4_TICKS = [0, 5, 10, 15, 20]

TITLES = [
    "Horizontal Chromatic Function, rms(Δ <i>ξ</i><sub>x</sub>) = 0.01746",
    "Vertical Chromatic Function, rms(Δ <i>ξ</i><sub>y</sub>) = 0.036419",
    "Remaining Horizontal Error, RMS: 2.0391",
    "Remaining Vertical Error, RMS: 4.711",
]
YLABELS = [
    "d<i>β</i><sub>x</sub> /d<i>δ</i> [m]",
    "d<i>β</i><sub>y</sub> /d<i>δ</i> [m]",
    "rms(Δ d<i>β</i><sub>x</sub> /d<i>δ</i>) [m]",
    "rms(Δ d<i>β</i><sub>y</sub> /d<i>δ</i>) [m]",
]

for a, b, n in [(S_X, DBX_ACT, "x act"), (S_X, DBX_FIT, "x fit"), (S_Y, DBY_ACT, "y act"),
                (S_Y, DBY_FIT, "y fit"), (S_EX, ERR_X, "ex"), (S_EY, ERR_Y, "ey")]:
    if len(a) != len(b):
        raise SystemExit(f"length mismatch {n}: {len(a)} vs {len(b)}")

# ---------------- figure ----------------
W, H = 589, 967
X0, X1 = 77, 583
PANELS = [(34, 192), (267, 424), (520, 684), (752, 916)]
BLUE = "#0072BD"
ORANGE = "#D95319"
FONT = "Liberation Sans, Arial, Helvetica, sans-serif"
INK = "#262626"
TICK_SIZE = 15
LABEL_SIZE = 15.5
TITLE_SIZE = 17
DASH = "6px,4px"

fig = go.Figure()
fig.add_trace(go.Scatter(x=S_X, y=DBX_ACT, mode="lines", name="Actual",
                         line=dict(color=BLUE, width=1.5), xaxis="x", yaxis="y"))
fig.add_trace(go.Scatter(x=S_X, y=DBX_FIT, mode="lines", name="Fitted",
                         line=dict(color=ORANGE, width=1.5, dash=DASH), xaxis="x", yaxis="y"))
fig.add_trace(go.Scatter(x=S_Y, y=DBY_ACT, mode="lines", showlegend=False,
                         line=dict(color=BLUE, width=1.5), xaxis="x2", yaxis="y2"))
fig.add_trace(go.Scatter(x=S_Y, y=DBY_FIT, mode="lines", showlegend=False,
                         line=dict(color=ORANGE, width=1.5, dash=DASH), xaxis="x2", yaxis="y2"))
fig.add_trace(go.Scatter(x=S_EX, y=ERR_X, mode="lines", showlegend=False,
                         line=dict(color=BLUE, width=1.5), xaxis="x3", yaxis="y3"))
fig.add_trace(go.Scatter(x=S_EY, y=ERR_Y, mode="lines", showlegend=False,
                         line=dict(color=BLUE, width=1.5), xaxis="x4", yaxis="y4"))

common = dict(showline=True, linecolor=INK, linewidth=1, mirror="ticks", ticks="inside",
              ticklen=5, tickcolor=INK, showgrid=True, gridcolor="#e3e3e3", gridwidth=1,
              zeroline=False, tickfont=dict(family=FONT, size=TICK_SIZE, color=INK),
              layer="above traces", automargin=False)

layout = dict(width=W, height=H, margin=dict(l=0, r=0, t=0, b=0, pad=0, autoexpand=False),
              paper_bgcolor="white", plot_bgcolor="white", hovermode=False,
              font=dict(family=FONT, size=TICK_SIZE, color=INK))
yticks = [Y1_TICKS, Y2_TICKS, Y3_TICKS, Y4_TICKS]
for i, (top, bot) in enumerate(PANELS, start=1):
    sfx = "" if i == 1 else str(i)
    layout["xaxis" + sfx] = dict(domain=[X0 / W, X1 / W], anchor="y" + sfx, range=[0, 528],
                                 tickvals=X_TICKS, ticktext=[str(v) for v in X_TICKS],
                                 ticklabelstandoff=3, **common)
    yt = yticks[i - 1]
    layout["yaxis" + sfx] = dict(domain=[1 - bot / H, 1 - top / H], anchor="x" + sfx,
                                 range=[yt[0], yt[-1]], tickvals=yt,
                                 ticktext=[str(v) for v in yt], ticklabelstandoff=4, **common)

ann = []
title_y = [15, 253, 510, 740]
ylab_x = [26, 22, 40, 32]
for i, (top, bot) in enumerate(PANELS):
    ann.append(dict(text=TITLES[i], x=(X0 + X1) / 2 / W, y=1 - title_y[i] / H, xref="paper", yref="paper",
                    xanchor="center", yanchor="middle", showarrow=False,
                    font=dict(family=FONT, size=TITLE_SIZE, color="black")))
    ann.append(dict(text=YLABELS[i], x=ylab_x[i] / W, y=1 - (top + bot) / 2 / H, xref="paper", yref="paper",
                    xanchor="center", yanchor="middle", textangle=-90, showarrow=False,
                    font=dict(family=FONT, size=LABEL_SIZE, color="black")))
for yy in (463, 953):
    ann.append(dict(text="s [m]", x=(X0 + X1) / 2 / W, y=1 - yy / H, xref="paper", yref="paper",
                    xanchor="center", yanchor="middle", showarrow=False,
                    font=dict(family=FONT, size=LABEL_SIZE, color="black")))
layout["annotations"] = ann
layout["legend"] = dict(x=586 / W, y=1 - 27 / H, xanchor="right", yanchor="top",
                        bgcolor="white", bordercolor=INK, borderwidth=1,
                        font=dict(family=FONT, size=14, color="black"),
                        tracegroupgap=0, itemwidth=42)
fig.update_layout(**layout)
fig.write_html("out.html", config={"displayModeBar": False, "staticPlot": True},
               post_script="document.body.style.margin='0';document.documentElement.style.margin='0';")
